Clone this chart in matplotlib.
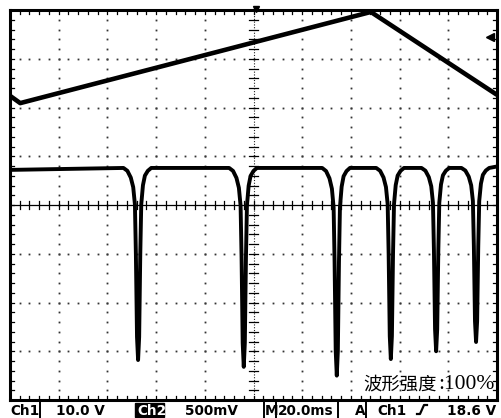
import numpy as np
import matplotlib
matplotlib.use("Agg")
import matplotlib.pyplot as plt
from matplotlib.lines import Line2D
from matplotlib.patches import Rectangle

# --- scope settings / readout ---
W, H = 501, 418
BOX = (10, 10, 497, 400)          # graticule box in pixels: left, top, right, bottom
N_XDIV, N_YDIV = 10, 8

# Ch1 ramp (divisions)
CH1_X = [0.0, 0.21, 7.41, 10.0]
CH1_Y = [2.24, 2.09, 3.96, 2.26]

# Ch2 pulse train (divisions)
CH2_BASE = 0.76
DIP_X = [2.63, 4.80, 6.71, 7.82, 8.75, 9.57]
DIP_BOTTOM = [-3.18, -3.32, -3.50, -3.16, -3.00, -2.81]
# shape of one dip: offset from dip centre (div) and fraction of full depth
DIP_DX = [-0.30, -0.22, -0.15, -0.10, -0.065, -0.045, -0.022, 0.0,
          0.022, 0.045, 0.065, 0.10, 0.14, 0.20, 0.27]
DIP_FRAC = [0.0, 0.015, 0.05, 0.10, 0.19, 0.45, 0.88, 1.0,
            0.88, 0.45, 0.19, 0.09, 0.04, 0.015, 0.0]

READOUT = [("Ch1", 10), ("10.0 V", 56), ("500mV", 185), ("M", 265),
           ("20.0ms", 278), ("A", 355), ("Ch1", 377), ("18.6 V", 447)]
SEPARATORS = [40, 264, 276, 338, 366]
LABEL_CN = "波形强度"
LABEL_VAL = ":100%"


def px(x, y):
    return x / W, 1 - y / H


fig = plt.figure(figsize=(W / 100, H / 100), dpi=100)
fig.patch.set_facecolor("white")

l, t, r, b = BOX
ax = fig.add_axes([l / W, 1 - b / H, (r - l) / W, (b - t) / H])
ax.set_xlim(0, N_XDIV)
ax.set_ylim(-N_YDIV / 2, N_YDIV / 2)
ax.set_xticks([])
ax.set_yticks([])
for s in ax.spines.values():
    s.set_linewidth(2.2)
    s.set_color("black")

minor = np.round(np.arange(0, N_XDIV + 0.01, 0.2), 2)
minor_y = np.round(np.arange(-4, 4.01, 0.2), 2)
dot = dict(ls="none", marker="s", ms=1.3, mec="none", mfc="#333333")

# dotted graticule lines
for gx in range(1, N_XDIV):
    if gx == 5:
        continue
    ax.plot(np.full_like(minor_y, gx), minor_y, **dot)
for gy in range(-3, 4):
    if gy == 0:
        continue
    ax.plot(minor, np.full_like(minor, gy), **dot)

# centre cross with tick marks
tk_x, tk_y = 0.085, 0.085
ax.axhline(0, color="black", lw=0.9)
ax.plot([5, 5], [-4, 4], color="#222222", lw=0.8, ls=(0, (1, 1.5)))
for mx in minor:
    ax.plot([mx, mx], [-tk_y, tk_y], color="black", lw=0.9)
for my in minor_y:
    ax.plot([5 - tk_x, 5 + tk_x], [my, my], color="black", lw=0.9)

# ticks inside the border
for mx in minor:
    ax.plot([mx, mx], [-4, -4 + tk_y], color="black", lw=0.9)
    ax.plot([mx, mx], [4, 4 - tk_y], color="black", lw=0.9)
for my in minor_y:
    ax.plot([0, tk_x], [my, my], color="black", lw=0.9)
    ax.plot([10, 10 - tk_x], [my, my], color="black", lw=0.9)

# Ch1 trace
ax.plot(CH1_X, CH1_Y, color="black", lw=3.3, solid_joinstyle="round",
        solid_capstyle="butt")

# Ch2 trace built from the dip list
xs, ys = [0.0], [CH2_BASE - 0.04]
for cx, bot in zip(DIP_X, DIP_BOTTOM):
    for dx, f in zip(DIP_DX, DIP_FRAC):
        xs.append(cx + dx)
        ys.append(CH2_BASE - f * (CH2_BASE - bot))
xs.append(10.0)
ys.append(CH2_BASE + 0.03)
ax.plot(xs, ys, color="black", lw=2.8, solid_joinstyle="round")

# trigger position / level markers
ax.plot([5.05], [4.02], marker="v", ms=5, color="black", clip_on=False)
ax.plot([9.85], [3.45], marker="<", ms=6, color="black", clip_on=False)

# waveform intensity label
ax.text(9.98 - 0.02, -3.78, LABEL_VAL, family=["Liberation Serif"],
        fontsize=15.5, ha="right", va="baseline", color="black")
fig.text(*px(437, 390), LABEL_CN, family=["Noto Sans CJK SC"],
         fontsize=13.2, ha="right", va="baseline", color="black")

# readout bar
for txt, x0 in READOUT:
    fig.text(*px(x0, 415), txt, fontsize=9.8, fontweight="bold",
             ha="left", va="baseline", color="black")
fig.patches.append(Rectangle(px(135, 417), 29 / W, 14 / H,
                             transform=fig.transFigure, color="black"))
fig.text(*px(137, 415), "Ch2", fontsize=9.8, fontweight="bold",
         ha="left", va="baseline", color="white")
for sx in SEPARATORS:
    fig.add_artist(Line2D([sx / W, sx / W], [1 - 402 / H, 0],
                          color="black", lw=1.4))
# trigger slope symbol
sx = [417, 420, 424, 427]
sy = [414, 414, 405, 405]
fig.add_artist(Line2D([v / W for v in sx], [1 - v / H for v in sy],
                      color="black", lw=1.6))

fig.savefig("out.png", dpi=100, facecolor="white")
